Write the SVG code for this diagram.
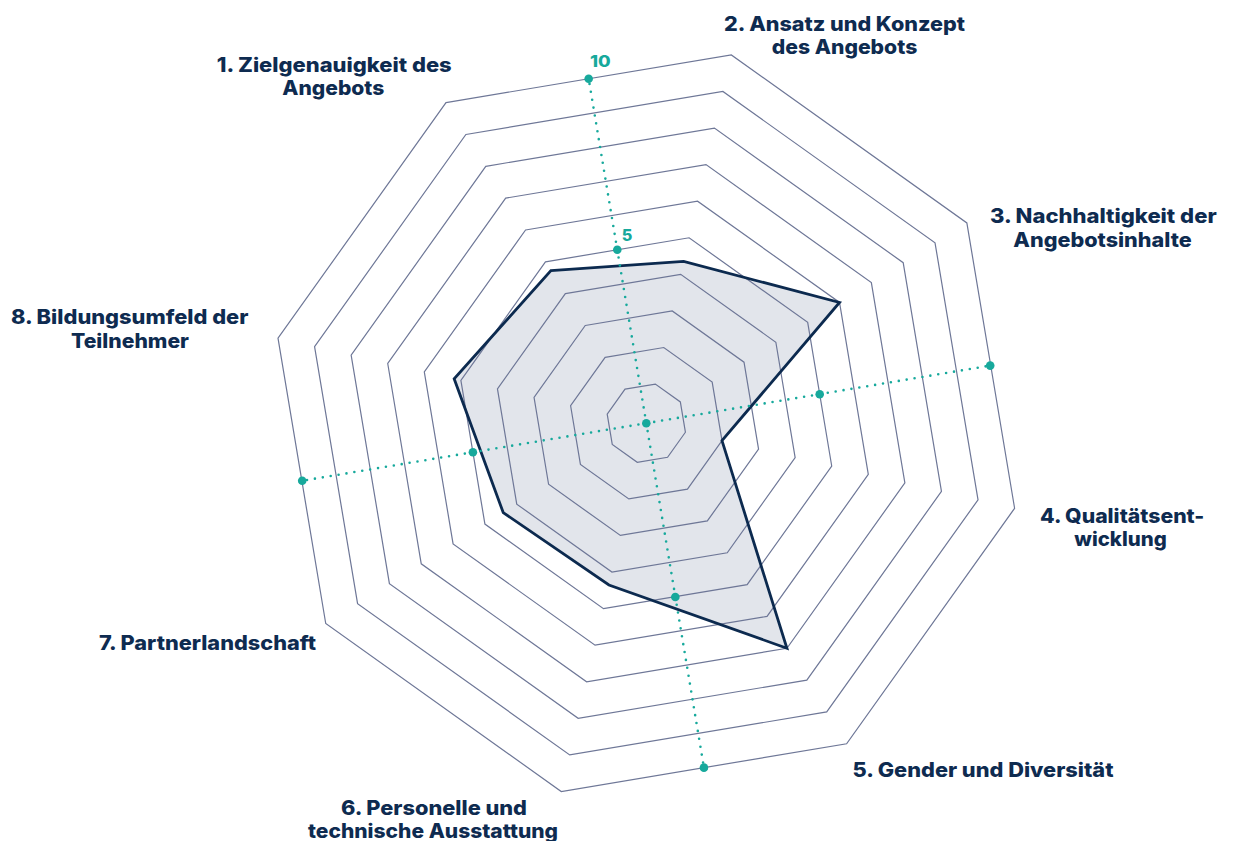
<svg xmlns="http://www.w3.org/2000/svg" width="1235" height="841" viewBox="0 0 1235 841">
<defs>
<style>
.ring{fill:none;stroke:#6e7797;stroke-width:1.2;stroke-linejoin:miter}
.area{fill:#e2e5eb;stroke:none}
.outline{fill:none;stroke:#0c2a4f;stroke-width:2.8;stroke-linejoin:miter}
.axis{stroke:#17a99c;stroke-width:2.6;stroke-linecap:round;stroke-dasharray:0 8;fill:none}
.dot{fill:#17a99c}
.lbl{font-family:Inter,"Noto Sans","DejaVu Sans",sans-serif;font-weight:800;font-size:20px;fill:#0e2b50;text-anchor:middle}
.num{font-family:Inter,"Noto Sans","DejaVu Sans",sans-serif;font-weight:800;font-size:16px;fill:#17a99c}
</style>
</defs>
<rect width="1235" height="841" fill="#ffffff"/>
<g id="data-area" transform="translate(646.3,423.2) rotate(-122)">
<polygon class="area" points="180,0 117.38,117.38 0,227.84 -54.93,54.93 -265.38,0 -117.38,-117.38 0,-168.7 139.44,-139.44"/>
</g>
<g id="grid" transform="translate(646.3,423.2) rotate(-122)">
<polygon class="ring" points="40.14,0 28.38,28.38 0,40.14 -28.38,28.38 -40.14,0 -28.38,-28.38 0,-40.14 28.38,-28.38"/>
<polygon class="ring" points="77.68,0 54.93,54.93 0,77.68 -54.93,54.93 -77.68,0 -54.93,-54.93 0,-77.68 54.93,-54.93"/>
<polygon class="ring" points="115.22,0 81.47,81.47 0,115.22 -81.47,81.47 -115.22,0 -81.47,-81.47 0,-115.22 81.47,-81.47"/>
<polygon class="ring" points="152.76,0 108.02,108.02 0,152.76 -108.02,108.02 -152.76,0 -108.02,-108.02 0,-152.76 108.02,-108.02"/>
<polygon class="ring" points="190.3,0 134.56,134.56 0,190.3 -134.56,134.56 -190.3,0 -134.56,-134.56 0,-190.3 134.56,-134.56"/>
<polygon class="ring" points="227.84,0 161.11,161.11 0,227.84 -161.11,161.11 -227.84,0 -161.11,-161.11 0,-227.84 161.11,-161.11"/>
<polygon class="ring" points="265.38,0 187.65,187.65 0,265.38 -187.65,187.65 -265.38,0 -187.65,-187.65 0,-265.38 187.65,-187.65"/>
<polygon class="ring" points="302.92,0 214.2,214.2 0,302.92 -214.2,214.2 -302.92,0 -214.2,-214.2 0,-302.92 214.2,-214.2"/>
<polygon class="ring" points="340.46,0 240.74,240.74 0,340.46 -240.74,240.74 -340.46,0 -240.74,-240.74 0,-340.46 240.74,-240.74"/>
<polygon class="ring" points="378,0 267.28,267.28 0,378 -267.28,267.28 -378,0 -267.28,-267.28 0,-378 267.28,-267.28"/>
</g>
<g id="data-outline" transform="translate(646.3,423.2) rotate(-122)">
<polygon class="outline" points="180,0 117.38,117.38 0,227.84 -54.93,54.93 -265.38,0 -117.38,-117.38 0,-168.7 139.44,-139.44"/>
</g>
<g id="axes">
<line class="axis" x1="646.3" y1="423.2" x2="588.66" y2="78.76"/>
<line class="axis" x1="646.3" y1="423.2" x2="703.94" y2="767.64"/>
<line class="axis" x1="646.3" y1="423.2" x2="990.2" y2="365.6"/>
<line class="axis" x1="646.3" y1="423.2" x2="302.2" y2="480.8"/>
<circle class="dot" cx="646.3" cy="423.2" r="4.3"/>
<circle class="dot" cx="588.66" cy="78.76" r="4.3"/>
<circle class="dot" cx="617.28" cy="249.8" r="4.3"/>
<circle class="dot" cx="703.94" cy="767.64" r="4.3"/>
<circle class="dot" cx="675.32" cy="597" r="4.3"/>
<circle class="dot" cx="990.2" cy="365.6" r="4.3"/>
<circle class="dot" cx="819.7" cy="394.2" r="4.3"/>
<circle class="dot" cx="302.2" cy="480.8" r="4.3"/>
<circle class="dot" cx="472.9" cy="452.2" r="4.3"/>
<text class="num" x="590" y="66.7" textLength="20.7" lengthAdjust="spacingAndGlyphs">10</text>
<text class="num" x="621.7" y="240.7" textLength="10.6" lengthAdjust="spacingAndGlyphs">5</text>
</g>
<g id="label-1"><text class="lbl" x="334.2" y="72.3" textLength="235" lengthAdjust="spacingAndGlyphs">1. Zielgenauigkeit des</text><text class="lbl" x="333.3" y="95" textLength="102" lengthAdjust="spacingAndGlyphs">Angebots</text></g>
<g id="label-2"><text class="lbl" x="844.5" y="30.7" textLength="241" lengthAdjust="spacingAndGlyphs">2. Ansatz und Konzept</text><text class="lbl" x="844.5" y="53.5" textLength="145.6" lengthAdjust="spacingAndGlyphs">des Angebots</text></g>
<g id="label-3"><text class="lbl" x="1103.3" y="223.3" textLength="226.7" lengthAdjust="spacingAndGlyphs">3. Nachhaltigkeit der</text><text class="lbl" x="1102.5" y="247.3" textLength="178.4" lengthAdjust="spacingAndGlyphs">Angebotsinhalte</text></g>
<g id="label-4"><text class="lbl" x="1122.2" y="522.7" textLength="164.3" lengthAdjust="spacingAndGlyphs">4. Qualitätsent-</text><text class="lbl" x="1120.5" y="545.5" textLength="92.4" lengthAdjust="spacingAndGlyphs">wicklung</text></g>
<g id="label-5"><text class="lbl" x="983" y="777" textLength="261" lengthAdjust="spacingAndGlyphs">5. Gender und Diversität</text></g>
<g id="label-6"><text class="lbl" x="434" y="814.7" textLength="186" lengthAdjust="spacingAndGlyphs">6. Personelle und</text><text class="lbl" x="433" y="837.6" textLength="250" lengthAdjust="spacingAndGlyphs">technische Ausstattung</text></g>
<g id="label-7"><text class="lbl" x="207.5" y="650" textLength="217" lengthAdjust="spacingAndGlyphs">7. Partnerlandschaft</text></g>
<g id="label-8"><text class="lbl" x="129.7" y="324.3" textLength="237.3" lengthAdjust="spacingAndGlyphs">8. Bildungsumfeld der</text><text class="lbl" x="130" y="348.3" textLength="118" lengthAdjust="spacingAndGlyphs">Teilnehmer</text></g>
</svg>
